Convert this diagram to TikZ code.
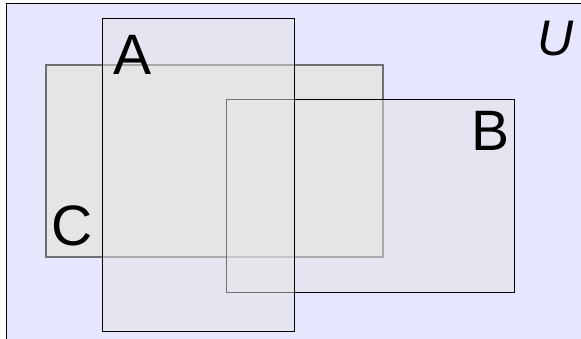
\documentclass[tikz,border=0pt]{standalone}
\usepackage{fontspec}
\setmainfont{Liberation Sans}
\definecolor{bgU}{RGB}{230,230,255}
\definecolor{boxfill}{RGB}{229,229,229}
\definecolor{cfill}{RGB}{229,229,229}
\tikzset{
  setbox/.style={draw=black, line width=1pt, fill=boxfill, fill opacity=0.5, draw opacity=1, inner sep=0pt, outer sep=0pt, rectangle},
  cbox/.style={draw={rgb,255:red,110;green,110;blue,115}, line width=1.1pt, fill=cfill, inner sep=0pt, outer sep=0pt, rectangle},
  biglabel/.style={inner sep=0pt, font=\fontsize{57}{57}\selectfont, text=black},
  ulabel/.style={inner sep=0pt, font=\fontsize{50}{50}\selectfont\itshape, text=black}
}
\begin{document}
\begin{tikzpicture}[x=1pt, y=-1pt]
\useasboundingbox (0,0) rectangle (581,339);
\clip (0,0) rectangle (581,339);
\fill[white] (0,0) rectangle (581,339);
\fill[bgU] (6,4) rectangle (600,360);
\draw[line width=1pt] (600,4) -- (6,4) -- (6,360);
% set C (drawn first, opaque)
\node[cbox, minimum width=337pt, minimum height=192pt] (C) at (214.5,161) {};
% set B
\node[setbox, minimum width=288pt, minimum height=192pt] (B) at (370,196) {};
% set A
\node[setbox, minimum width=192pt, minimum height=312pt] (A) at (198,175) {};
% labels
\node[biglabel] (la) at (133,55) {A};
\node[biglabel] (lb) at (491,131) {B};
\node[biglabel] (lc) at (72,226) {C};
\node[ulabel] (lu) at (556,39) {U};
\end{tikzpicture}
\end{document}
